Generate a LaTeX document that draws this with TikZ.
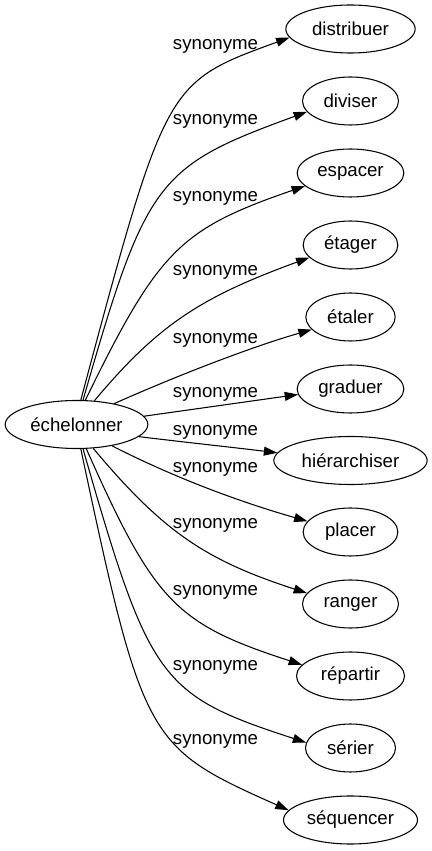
\documentclass[tikz,border=0pt]{standalone}
\usepackage{fontspec}
\setmainfont{Liberation Sans}
\usetikzlibrary{arrows.meta,shapes.geometric}
\begin{document}
\begin{tikzpicture}[x=0.75pt,y=0.75pt,font=\fontsize{14}{16}\selectfont,
  word/.style={draw,ellipse,inner sep=0pt,minimum height=36pt,line width=0.8pt},
  syn/.style={anchor=base,inner sep=0pt},
  >={Triangle[length=10pt,width=6.7pt]}]
\useasboundingbox (0,0) rectangle (432,851);

\node[word,minimum width=107pt] (echelonner) at (76.5,426.5) {échelonner};

\node[word,minimum width=97pt] (distribuer) at (350.5,822) {distribuer};
\node[word,minimum width=72pt] (diviser) at (350.5,750) {diviser};
\node[word,minimum width=80pt] (espacer) at (350.5,678) {espacer};
\node[word,minimum width=71pt] (etager) at (350.5,606) {étager};
\node[word,minimum width=67pt] (etaler) at (350.5,534) {étaler};
\node[word,minimum width=80pt] (graduer) at (350.5,462) {graduer};
\node[word,minimum width=115pt] (hierarchiser) at (350.5,390.5) {hiérarchiser};
\node[word,minimum width=71pt] (placer) at (350.5,319) {placer};
\node[word,minimum width=72pt] (ranger) at (350.5,247) {ranger};
\node[word,minimum width=81pt] (repartir) at (350.5,175) {répartir};
\node[word,minimum width=67.5pt] (serier) at (350.5,103) {sérier};
\node[word,minimum width=100.5pt] (sequencer) at (350.5,31) {séquencer};

\node[syn] (s1) at (215.5,801) {synonyme};
\node[syn] (s2) at (215.5,726) {synonyme};
\node[syn] (s3) at (215.5,649) {synonyme};
\node[syn] (s4) at (215.5,575) {synonyme};
\node[syn] (s5) at (215.5,507) {synonyme};
\node[syn] (s6) at (215.5,453) {synonyme};
\node[syn] (s7) at (215.5,415) {synonyme};
\node[syn] (s8) at (215.5,378) {synonyme};
\node[syn] (s9) at (215.5,322) {synonyme};
\node[syn] (s10) at (215.5,255) {synonyme};
\node[syn] (s11) at (215.5,180) {synonyme};
\node[syn] (s12) at (215.5,106) {synonyme};

\path[draw,line width=0.8pt,->] (echelonner.80) .. controls +(75:329) and +(200:132) .. (distribuer.188);
\path[draw,line width=0.8pt,->] (echelonner.75) .. controls +(74:229) and +(200:160) .. (diviser.194);
\path[draw,line width=0.8pt,->] (echelonner.70) .. controls +(64:167) and +(199:132) .. (espacer.196);
\path[draw,line width=0.8pt,->] (echelonner.53) .. controls +(50:98) and +(200:117) .. (etager.197);
\path[draw,line width=0.8pt,->] (echelonner.29) .. controls +(24:65) and +(196:65) .. (etaler.198);
\path[draw,line width=0.8pt,->] (echelonner.7) .. controls +(8:50) and +(188:50) .. (graduer.186);
\path[draw,line width=0.8pt,->] (echelonner.-11) .. controls +(-7:45) and +(173:45) .. (hierarchiser.174);
\path[draw,line width=0.8pt,->] (echelonner.-31) .. controls +(-27:80) and +(164:60) .. (placer.166);
\path[draw,line width=0.8pt,->] (echelonner.-55) .. controls +(-50:109) and +(162:107) .. (ranger.166);
\path[draw,line width=0.8pt,->] (echelonner.-68) .. controls +(-66:168) and +(162:133) .. (repartir.167);
\path[draw,line width=0.8pt,->] (echelonner.-75) .. controls +(-74:241) and +(162:154) .. (serier.173);
\path[draw,line width=0.8pt,->] (echelonner.-80) .. controls +(-78:300) and +(156:155) .. (sequencer.171);
\end{tikzpicture}
\end{document}
